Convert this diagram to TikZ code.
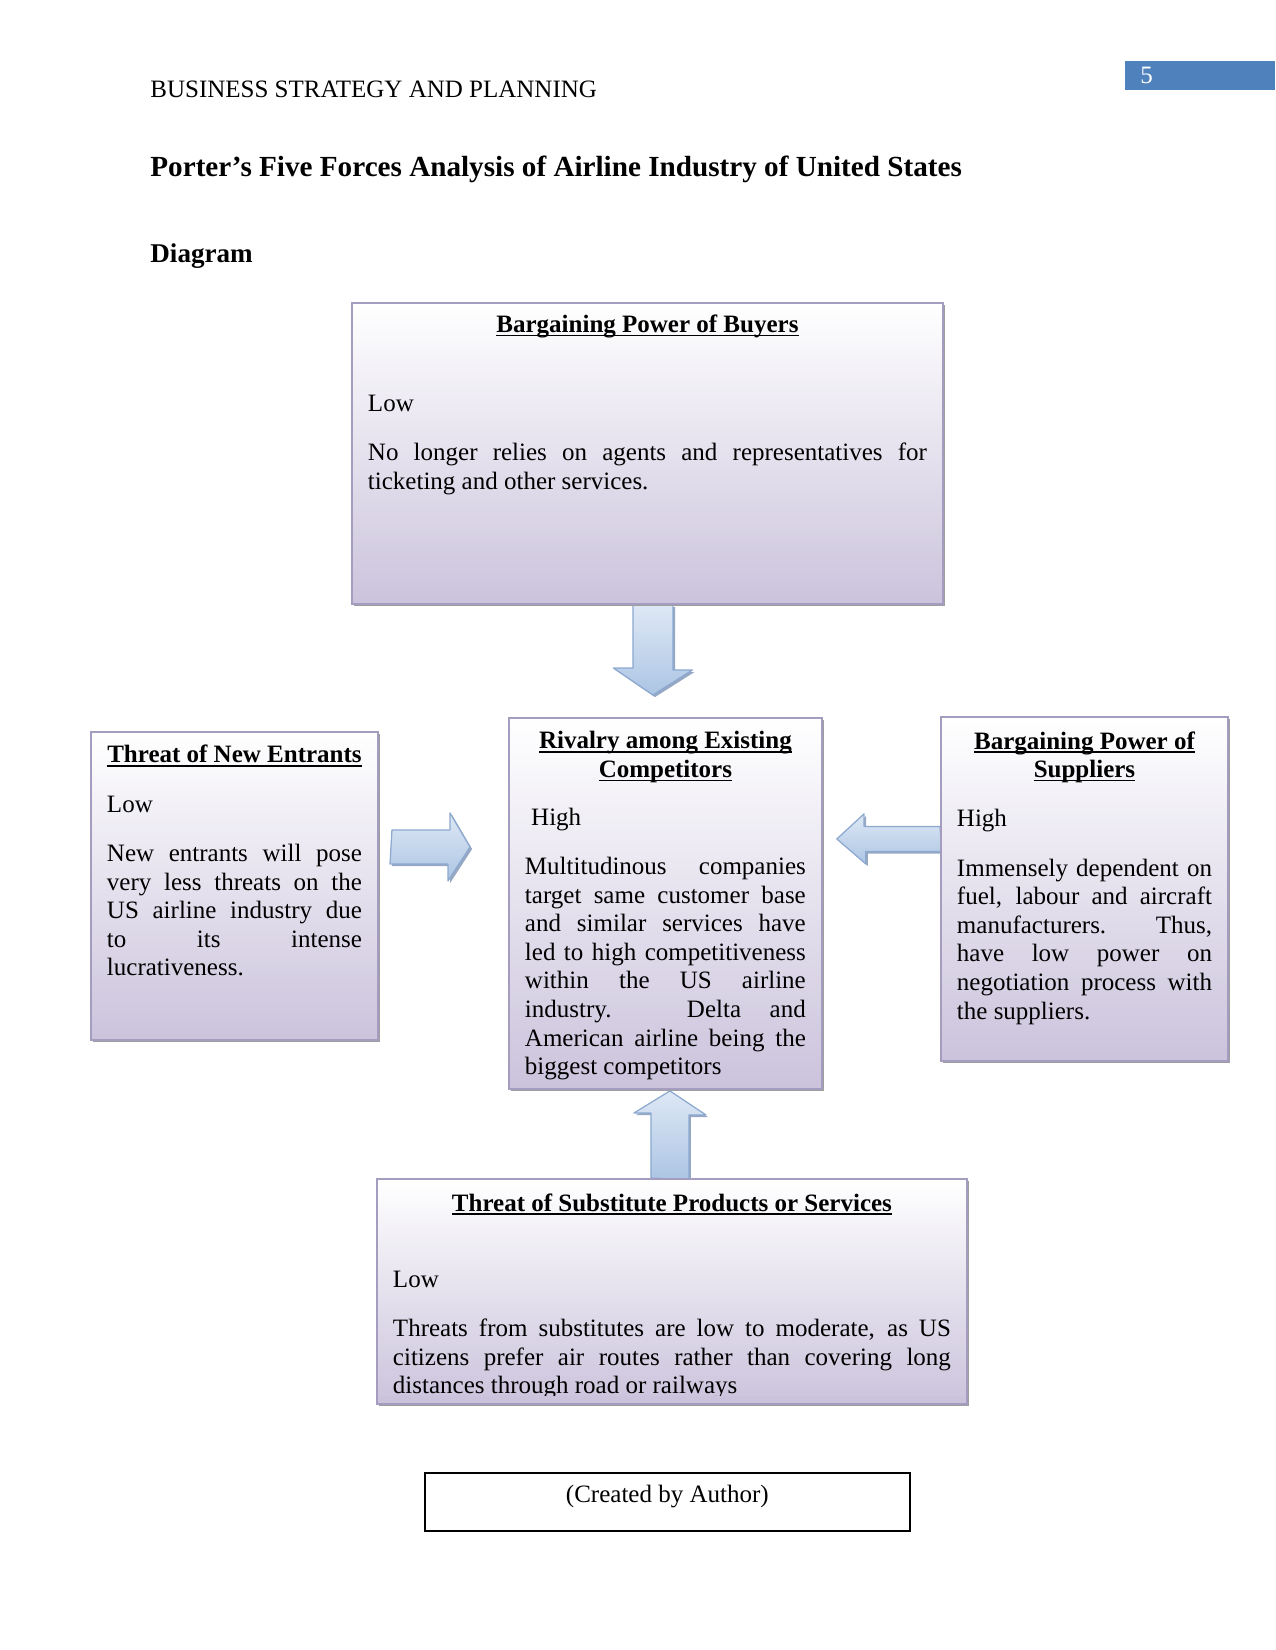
\documentclass[tikz,border=0pt]{standalone}
\usepackage{fontspec}
\setmainfont{Liberation Serif}
\usetikzlibrary{calc,shadows,backgrounds}

\definecolor{boxbot}{RGB}{203,195,220}
\definecolor{boxedge}{RGB}{165,157,192}
\definecolor{arrowtop}{RGB}{222,232,245}
\definecolor{arrowbot}{RGB}{172,197,228}
\definecolor{arrowedge}{RGB}{141,169,207}
\definecolor{arrowdepth}{RGB}{150,168,196}
\definecolor{pagefill}{RGB}{79,129,189}

\newcommand{\undertitle}[1]{\leavevmode\setbox0=\hbox{\bfseries #1}\rlap{\vrule width\wd0 height -1.0pt depth 1.7pt}\box0}
\newcommand{\forcetext}[3]{\begin{minipage}[c][#2][t]{#1}\fontsize{12}{13.7}\selectfont\hyphenpenalty=10000\tolerance=10000 #3\par\end{minipage}}

\tikzset{
  forcebox/.style={draw=boxedge, line width=0.9pt, top color=white, bottom color=boxbot,
    drop shadow={shadow xshift=1.1pt, shadow yshift=-1.1pt, fill=black!38, opacity=1},
    inner xsep=7.7pt, inner ysep=0pt, anchor=north west},
  blockarrow/.style={draw=arrowedge, line width=0.6pt, line join=round, top color=arrowtop, bottom color=arrowbot,
    drop shadow={shadow xshift=1pt, shadow yshift=-1pt, fill=arrowdepth, opacity=1}},
}

\begin{document}
\begin{tikzpicture}[x=0.48pt, y=-0.48pt, font=\fontsize{12}{13.7}\selectfont, inner sep=0pt]
\useasboundingbox (0,0) rectangle (1275,1650);
% running head and page number
\node[anchor=base west] (head) at (150,98) {BUSINESS STRATEGY AND PLANNING};
\node[fill=pagefill, text=white, anchor=north west, minimum height=13.8pt, text width=57.6pt, inner xsep=7.2pt, align=left] (pagenum) at (1125,61) {5};
% headings
\node[anchor=base west, font=\bfseries\fontsize{14}{16}\selectfont] (title) at (150,177) {Porter’s Five Forces Analysis of Airline Industry of United States};
\node[anchor=base west, font=\bfseries\fontsize{13}{15}\selectfont] (diagram) at (150,263) {Diagram};

% the five forces
\node[forcebox] (buyers) at (351,302) {\forcetext{268.3pt}{144.5pt}{%
  {\centering\rule{0pt}{14.4pt}\undertitle{Bargaining Power of Buyers}\par}%
  \vspace{24pt}Low\par\vspace{10pt}%
  No longer relies on agents and representatives for\linebreak ticketing and other services.}};
\node[forcebox] (rival) at (508,717) {\forcetext{134.8pt}{178.1pt}{%
  {\centering\rule{0pt}{14.9pt}\undertitle{Rivalry among Existing}\\\undertitle{Competitors}\par}%
  \vspace{9.3pt}\ High\par\vspace{10pt}%
  Multitudinous companies\linebreak target same customer base\linebreak and similar services have\linebreak led to high competitiveness\linebreak within the US airline\linebreak industry. Delta and\linebreak American airline being the\linebreak biggest competitors}};
\node[forcebox] (entrants) at (90,731) {\forcetext{122.4pt}{147.8pt}{%
  {\centering\rule{0pt}{14.9pt}\undertitle{Threat of New Entrants}\par}%
  \vspace{10pt}Low\par\vspace{10pt}%
  New entrants will pose\linebreak very less threats on the\linebreak US airline industry due\linebreak to its intense\linebreak lucrativeness.}};
\node[forcebox] (suppliers) at (940,716) {\forcetext{122.4pt}{165.1pt}{%
  {\centering\rule{0pt}{15.4pt}\undertitle{Bargaining Power of}\\\undertitle{Suppliers}\par}%
  \vspace{10pt}High\par\vspace{10pt}%
  Immensely dependent on\linebreak fuel, labour and aircraft\linebreak manufacturers. Thus,\linebreak have low power on\linebreak negotiation process with\linebreak the suppliers.}};
\node[forcebox] (subs) at (376,1178) {\forcetext{267.8pt}{108pt}{%
  {\centering\rule{0pt}{15.4pt}\undertitle{Threat of Substitute Products or Services}\par}%
  \vspace{23pt}Low\par\vspace{10pt}%
  Threats from substitutes are low to moderate, as US\linebreak citizens prefer air routes rather than covering long\linebreak distances through road or railways}};
% last line runs into the lower edge
\fill[boxbot] ([xshift=0.9pt,yshift=0.9pt]subs.south west) rectangle ([xshift=-0.9pt,yshift=4.4pt]subs.south east);

% block arrows towards the rivalry box
\coordinate (dtail) at ($(buyers.south)+(5.5,0)$);
\coordinate (dtip) at ($(rival.north)+(-12.5,-22)$);
\coordinate (rtail) at ($(entrants.east)+(13,-39)$);
\coordinate (rtip) at ($(rival.west)+(-38,-56.5)$);
\coordinate (ltail) at ($(suppliers.west)+(0,-50)$);
\coordinate (ltip) at ($(rival.east)+(14,-64.5)$);
\coordinate (utail) at ($(subs.north)+(-2,0)$);
\coordinate (utip) at ($(rival.south)+(4.5,1)$);
\begin{pgfonlayer}{background}
\draw[blockarrow] (dtail) ++(-20,0) -- ++(40,0) -- ++(0,65) -- ++(19.5,0) -- (dtip) -- ++(-39.5,-27) -- ++(19.5,0) -- cycle;
\draw[blockarrow] (rtail) ++(0,-17) -- ++(58,0) -- ++(0,-17) -- (rtip) -- ++(-22,34) -- ++(0,-17) -- ++(-58,0) -- cycle;
\draw[blockarrow] (ltail) ++(0,-12.5) -- ++(-76,0) -- ++(0,-12.5) -- (ltip) -- ++(29,25) -- ++(0,-12.5) -- ++(76,0) -- cycle;
\draw[blockarrow] (utail) ++(-19,0) -- ++(0,-65) -- ++(-17,0) -- (utip) -- ++(36,24) -- ++(-17,0) -- ++(0,65) -- cycle;
\end{pgfonlayer}

% source note
\node[draw, line width=0.8pt, anchor=north west, minimum width=232.8pt, minimum height=27.8pt, text height=8.3pt, text depth=7.3pt] (credit) at (424,1472) {(Created by Author)};
\end{tikzpicture}
\end{document}
